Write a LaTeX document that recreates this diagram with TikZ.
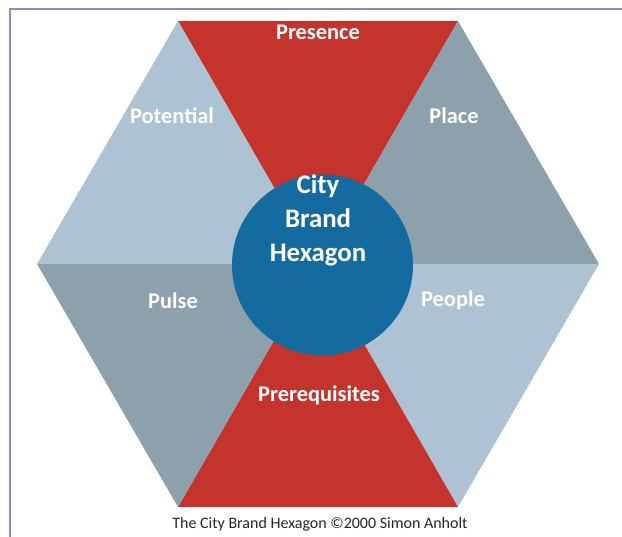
\documentclass[tikz,border=0pt]{standalone}
\usepackage{fontspec}
\setmainfont{Carlito}
\usetikzlibrary{positioning}

\definecolor{presred}{HTML}{C4342D}
\definecolor{palegrey}{HTML}{ADC2D3}
\definecolor{darkgrey}{HTML}{8DA1AC}
\definecolor{hubblue}{HTML}{136B9F}
\definecolor{framecol}{HTML}{8E8BC0}

\begin{document}
\begin{tikzpicture}[
        x=1pt, y=-1pt,
        label/.style={text=white, font=\fontsize{22.4}{26}\selectfont\bfseries},
        hub/.style={circle, fill=hubblue, minimum size=181pt, inner sep=0pt}
    ]
        \useasboundingbox (0,0) rectangle (622,537);

        % Frame
        \draw[framecol, line width=1.3pt] (10,537) -- (10,9) -- (622,9);

        % Hexagon corners
        \coordinate (c) at (318,264);
        \coordinate (tl) at (178,21);
        \coordinate (tr) at (458,21);
        \coordinate (r) at (599,264);
        \coordinate (br) at (458,507);
        \coordinate (bl) at (178,507);
        \coordinate (l) at (37,264);

        % Slices
        \fill[presred] (tl) -- (tr) -- (c) -- cycle;
        \fill[darkgrey] (tr) -- (r) -- (c) -- cycle;
        \fill[palegrey] (r) -- (br) -- (c) -- cycle;
        \fill[presred] (br) -- (bl) -- (c) -- cycle;
        \fill[darkgrey] (bl) -- (l) -- (c) -- cycle;
        \fill[palegrey] (l) -- (tl) -- (c) -- cycle;

        % Centre
        \node[hub] (hubdisc) at (322.5,265) {};
        \node[label, font=\fontsize{26.8}{34}\selectfont\bfseries, align=center] (hubtext) at (318,220) {City\\Brand\\Hexagon};

        % Labels
        \node[label] (presence) at (318,32.5) {Presence};
        \node[label] (potential) at (172,115.5) {Potential};
        \node[label] (place) at (454,115.5) {Place};
        \node[label] (pulse) at (173,300.5) {Pulse};
        \node[label] (people) at (453,300.5) {People};
        \node[label] (prereq) at (319,395.5) {Prerequisites};

        % Caption
        \node[text=black!85, font=\fontsize{16}{19}\selectfont] (caption) at (320,524) {The City Brand Hexagon ©2000 Simon Anholt};
\end{tikzpicture}
\end{document}
